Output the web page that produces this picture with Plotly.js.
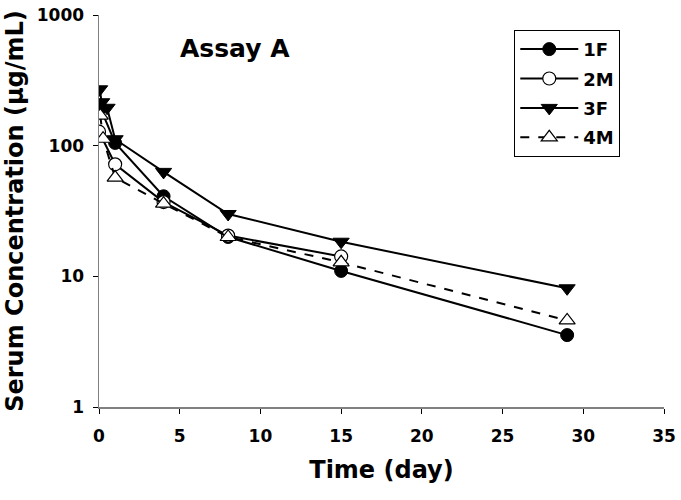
<!DOCTYPE html>
<html>
<head>
<meta charset="utf-8">
<script src="https://cdn.plot.ly/plotly-3.0.1.min.js"></script>
<style>html,body{margin:0;padding:0;background:#fff;}#chart{width:681px;height:500px;}</style>
</head>
<body>
<div id="chart"></div>
<script>
// Data
const t1F = [0.08, 1, 4, 8, 15, 29];
const v1F = [195, 105, 41, 20, 11, 3.55];
const t2M = [0, 1, 4, 8, 15];
const v2M = [128, 72, 37, 20.5, 14.2];
const t3F = [0.04, 0.17, 0.5, 1, 4, 8, 15, 29];
const v3F = [270, 215, 195, 112, 63, 30, 18.4, 8.1];
const t4M = [0.08, 0.25, 1, 4, 8, 15, 29];
const v4M = [170, 113, 57, 36, 20, 12.8, 4.6];
const xTicks = [0, 5, 10, 15, 20, 25, 30, 35];
const yTicks = [1, 10, 100, 1000];

const F = "DejaVu Sans, Verdana, sans-serif";

const traces = [
  {x: t1F, y: v1F, name: '1F', legendgroup: 'a', mode: 'lines+markers', type: 'scatter',
   line: {color: '#000', width: 2},
   marker: {symbol: 'circle', size: 13, color: '#000', line: {color: '#000', width: 1}}},
  {x: t2M, y: v2M, name: '2M', legendgroup: 'b', mode: 'lines+markers', type: 'scatter',
   line: {color: '#000', width: 2},
   marker: {symbol: 'circle', size: 13, color: '#fff', line: {color: '#000', width: 1.2}}},
  {x: t3F, y: v3F, name: '3F', legendgroup: 'c', mode: 'lines+markers', type: 'scatter',
   line: {color: '#000', width: 2},
   marker: {symbol: 'triangle-down', size: 14, color: '#000', line: {color: '#000', width: 1}}},
  {x: t4M, y: v4M, name: '4M', legendgroup: 'd', mode: 'lines+markers', type: 'scatter',
   line: {color: '#000', width: 2, dash: 'dash'},
   marker: {symbol: 'triangle-up', size: 14, color: '#fff', line: {color: '#000', width: 1.2}}}
];

const layout = {
  width: 681, height: 500,
  margin: {l: 99, r: 17, t: 15, b: 93},
  paper_bgcolor: '#fff', plot_bgcolor: '#fff',
  showlegend: true,
  legend: {x: 0.735, y: 0.962, xanchor: 'left', yanchor: 'top',
    bordercolor: '#000', borderwidth: 1, bgcolor: '#fff',
    font: {family: F, size: 18, color: '#000', weight: 'bold'},
    itemwidth: 58, tracegroupgap: 3},
  xaxis: {range: [0, 35], tickvals: xTicks, ticks: 'outside', ticklen: 5,
    showgrid: false, zeroline: false, showline: true, linecolor: '#808080', linewidth: 1.5,
    tickcolor: '#000', ticklabelstandoff: 8,
    tickfont: {family: F, size: 17, color: '#000', weight: 'bold'},
    title: {text: 'Time (day)', font: {family: F, size: 24, color: '#000', weight: 'bold'}, standoff: 16}},
  yaxis: {type: 'log', range: [0, 3], tickvals: yTicks, ticktext: yTicks.map(String),
    ticks: 'outside', ticklen: 5, tickcolor: '#000', ticklabelstandoff: 5,
    showgrid: false, zeroline: false, showline: true, linecolor: '#808080', linewidth: 1.5,
    tickfont: {family: F, size: 17, color: '#000', weight: 'bold'},
    title: {text: 'Serum Concentration (µg/mL)', font: {family: F, size: 24, color: '#000', weight: 'bold'}, standoff: 6}},
  annotations: [{text: 'Assay A', xref: 'paper', yref: 'paper', x: 0.241, y: 0.915,
    xanchor: 'center', yanchor: 'middle', showarrow: false,
    font: {family: F, size: 25, color: '#000', weight: 'bold'}}]
};

Plotly.newPlot('chart', traces, layout, {displayModeBar: false, staticPlot: true});
</script>
</body>
</html>
